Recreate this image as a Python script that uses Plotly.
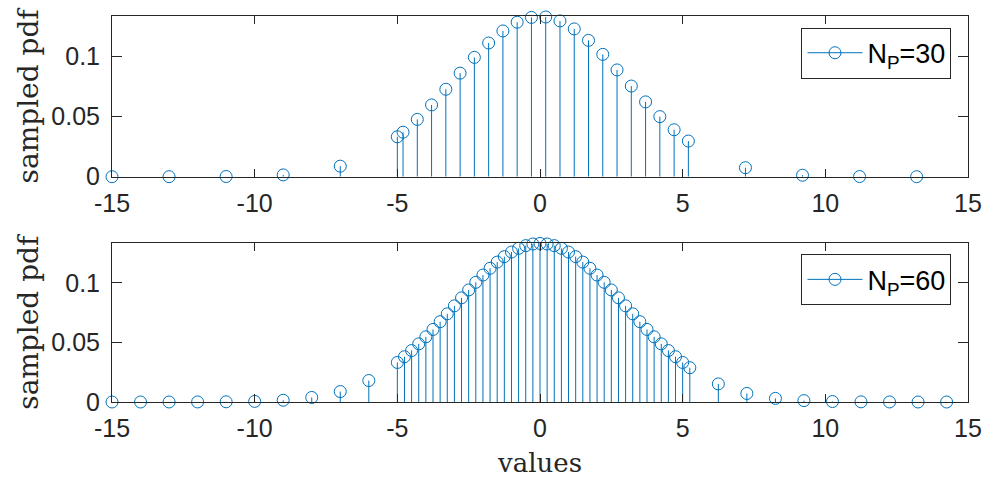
import plotly.graph_objects as go

# Sample positions and sampled pdf values, N_P = 30
x30 = [-15, -13, -11, -9, -7, -5, -4.8, -4.3, -3.8, -3.3, -2.8, -2.3, -1.8, -1.3,
       -0.8, -0.3, 0.2, 0.7, 1.2, 1.7, 2.2, 2.7, 3.2, 3.7, 4.2, 4.7, 5.2,
       7.2, 9.2, 11.2, 13.2]
y30 = [0.0000005, 0.0000111, 0.00016, 0.00148, 0.00874, 0.03316, 0.03697, 0.04760,
       0.05962, 0.07262, 0.08602, 0.09912, 0.11107, 0.12106, 0.12834, 0.13232,
       0.13268, 0.12941, 0.12276, 0.11326, 0.10162, 0.08870, 0.07529, 0.06215,
       0.04991, 0.03898, 0.02961, 0.00746, 0.00121, 0.000125, 0.0000083]

# Sample positions and sampled pdf values, N_P = 60
x60 = [-15, -14, -13, -12, -11, -10, -9, -8, -7, -6, -5,
       -4.75, -4.5, -4.25, -4, -3.75, -3.5, -3.25, -3, -2.75, -2.5, -2.25, -2,
       -1.75, -1.5, -1.25, -1, -0.75, -0.5, -0.25, 0, 0.25, 0.5, 0.75, 1, 1.25,
       1.5, 1.75, 2, 2.25, 2.5, 2.75, 3, 3.25, 3.5, 3.75, 4, 4.25, 4.5, 4.75, 5,
       5.25, 6.25, 7.25, 8.25, 9.25, 10.25, 11.25, 12.25, 13.25, 14.25]
y60 = [0.0000005, 0.0000025, 0.0000111, 0.0000446, 0.00016, 0.000514, 0.00148,
       0.00380, 0.00874, 0.01800, 0.03316,
       0.03797, 0.04317, 0.04875, 0.05467, 0.06088, 0.06734, 0.07395, 0.08066,
       0.08736, 0.09398, 0.10038, 0.10648, 0.11217, 0.11736, 0.12192, 0.12579,
       0.12889, 0.13115, 0.13252, 0.13298, 0.13252, 0.13115, 0.12889, 0.12579,
       0.12192, 0.11736, 0.11217, 0.10648, 0.10038, 0.09398, 0.08736, 0.08066,
       0.07395, 0.06734, 0.06088, 0.05467, 0.04875, 0.04317, 0.03797, 0.03316,
       0.02876,
       0.01518, 0.00717, 0.00303, 0.00115, 0.000388, 0.000118, 0.0000319,
       0.0000077, 0.0000017]

x_ticks = [-15, -10, -5, 0, 5, 10, 15]
x_ticklabels = ["-15", "-10", "-5", "0", "5", "10", "15"]
y_ticks = [0, 0.05, 0.1]
y_ticklabels = ["0", "0.05", "0.1"]

BLUE = "#0072BD"
INK = "#262626"
SANS = "Liberation Sans, Arial, sans-serif"
SERIF = "DejaVu Serif, serif"

fig = go.Figure()


def add_stem(x, y, xa, ya, label, legend):
    # vertical stems from the baseline to each sample
    sx, sy = [], []
    for xi, yi in zip(x, y):
        sx += [xi, xi, None]
        sy += [0, yi, None]
    fig.add_trace(go.Scatter(
        x=sx, y=sy, mode="lines", xaxis=xa, yaxis=ya,
        line=dict(color=BLUE, width=1), showlegend=False,
        hoverinfo="skip", cliponaxis=False))
    # open circle heads
    fig.add_trace(go.Scatter(
        x=x, y=y, mode="markers", xaxis=xa, yaxis=ya,
        marker=dict(symbol="circle-open", size=12, color=BLUE,
                    line=dict(width=1, color=BLUE)),
        showlegend=False, cliponaxis=False))
    # legend entry (stem line with circle head)
    fig.add_trace(go.Scatter(
        x=[None], y=[None], mode="lines+markers", xaxis=xa, yaxis=ya,
        name=label, legend=legend,
        line=dict(color=BLUE, width=1),
        marker=dict(symbol="circle-open", size=12, color=BLUE,
                    line=dict(width=1, color=BLUE))))


add_stem(x30, y30, "x", "y", "N<sub>P</sub>=30", "legend")
add_stem(x60, y60, "x2", "y2", "N<sub>P</sub>=60", "legend2")

axis_common = dict(
    showline=True, linecolor=INK, linewidth=1, mirror="ticks",
    ticks="inside", tickcolor=INK, tickwidth=1,
    showgrid=False, zeroline=False, automargin=False,
    tickfont=dict(family=SANS, size=25, color=INK),
)
xaxis_common = dict(axis_common, range=[-15, 15], tickvals=x_ticks,
                    ticktext=x_ticklabels, ticklen=8, ticklabelstandoff=4)
yaxis_common = dict(axis_common, tickvals=y_ticks, ticktext=y_ticklabels,
                    ticklen=10, ticklabelstandoff=6,
                    title=dict(text="sampled pdf", standoff=4,
                               font=dict(family=SERIF, size=28, color=INK)))

legend_common = dict(
    xanchor="right", yanchor="top", bgcolor="white",
    bordercolor=INK, borderwidth=1, itemwidth=55,
    font=dict(family=SANS, size=27, color="black"),
)

fig.update_layout(
    width=989, height=479,
    margin=dict(l=112, r=21, t=16, b=77),
    paper_bgcolor="white", plot_bgcolor="white",
    xaxis=dict(xaxis_common, domain=[0, 1], anchor="y"),
    yaxis=dict(yaxis_common, domain=[0.5837, 1], range=[0, 0.1335], anchor="x"),
    xaxis2=dict(xaxis_common, domain=[0, 1], anchor="y2",
                title=dict(text="values", standoff=12,
                           font=dict(family=SERIF, size=26, color=INK))),
    yaxis2=dict(yaxis_common, domain=[0, 0.4111], range=[0, 0.1331], anchor="x2"),
    legend=dict(legend_common, x=0.9807, y=0.9697),
    legend2=dict(legend_common, x=0.9807, y=0.3826),
)

fig.write_html("out.html")
